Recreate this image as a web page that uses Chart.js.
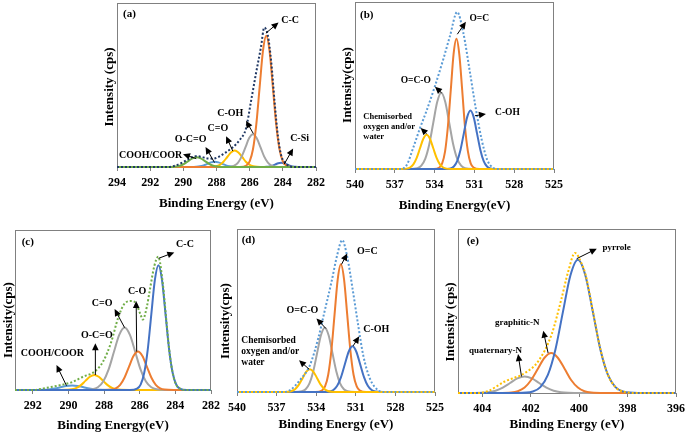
<!DOCTYPE html>
<html lang="en">
<head>
<meta charset="UTF-8">
<title>XPS spectra</title>
<script src="https://cdn.jsdelivr.net/npm/chart.js"></script>
<style>
  body { margin: 0; background: #fff; }
  #wrap { position: relative; width: 690px; height: 436px; overflow: hidden; }
  canvas { position: absolute; }
</style>
</head>
<body>
<div id="wrap">
  <canvas id="ca" width="235" height="215" style="left:95px;top:0"></canvas>
  <canvas id="cb" width="240" height="215" style="left:335px;top:0"></canvas>
  <canvas id="cc" width="225" height="221" style="left:0;top:215px"></canvas>
  <canvas id="cd" width="232" height="221" style="left:218px;top:215px"></canvas>
  <canvas id="ce" width="250" height="221" style="left:440px;top:215px"></canvas>
</div>
<script>
// values: [binding energy (eV), intensity in % of the panel height]

// (a) C 1s
const aRange = [294, 282];
const aEnvelope = [[294,0],[291.0,0],[290.6,0.5],[290.0,3],[289.6,5.3],[289.25,6.6],[288.9,6.2],[288.55,5.2],[288.2,5.1],[287.9,6],[287.6,7.8],[287.0,12.2],[286.6,16.5],[286.22,23.5],[285.92,40],[285.62,57],[285.32,73],[285.12,85],[284.9,80],[284.7,64],[284.5,40],[284.3,19],[284.1,7],[283.9,3],[283.6,0.5],[283.3,0],[282,0]];
const aCC = [[294,0],[286.6,0],[286.2,0.9],[286.0,3.5],[285.8,10.8],[285.6,26.0],[285.4,48.5],[285.2,70.6],[285.0,80],[284.8,70.6],[284.6,48.5],[284.4,26.0],[284.2,10.8],[284.0,3.5],[283.8,0.9],[283.4,0],[282,0]];
const aCOH = [[294,0],[287.6,0],[287.15,0.22],[286.93,0.88],[286.7,2.71],[286.48,6.49],[286.25,12.13],[286.03,17.65],[285.8,20],[285.58,17.65],[285.35,12.13],[285.13,6.49],[284.9,2.71],[284.68,0.88],[284.45,0.22],[284.0,0],[282,0]];
const aCdO = [[294,0],[288.7,0],[288.25,0.11],[288.03,0.44],[287.8,1.35],[287.58,3.2],[287.35,6.1],[287.13,8.8],[286.9,10],[286.68,8.8],[286.45,6.1],[286.23,3.2],[286.0,1.35],[285.78,0.44],[285.55,0.11],[285.1,0],[282,0]];
const aOCO = [[294,0],[289.45,0],[289.23,0.14],[289.0,0.43],[288.78,1.0],[288.55,1.9],[288.33,2.8],[288.1,3.2],[287.88,2.8],[287.65,1.9],[287.43,1.0],[287.2,0.43],[286.98,0.14],[286.75,0],[282,0]];
const aCOOH = [[294,0],[291.2,0],[290.7,0.07],[290.45,0.26],[290.2,0.8],[289.95,1.95],[289.7,3.6],[289.45,5.3],[289.2,6],[288.95,5.3],[288.7,3.6],[288.45,1.95],[288.2,0.8],[287.95,0.26],[287.7,0.07],[287.2,0],[282,0]];
const aCSi = [[294,0],[285.3,0],[284.98,0.11],[284.8,0.35],[284.63,0.85],[284.45,1.6],[284.28,2.3],[284.1,2.6],[283.93,2.3],[283.75,1.6],[283.58,0.85],[283.4,0.35],[283.23,0.11],[282.9,0],[282,0]];
const aLabels = ['C-C', 'C-Si', 'C-OH', 'C=O', 'O-C=O', 'COOH/COOR'];

// (b) O 1s
const bRange = [540, 525];
const bEnvelope = [[540,0],[536.6,0],[536.1,2.4],[535.6,13],[535.1,24.5],[534.6,35],[534.0,49],[533.35,65.6],[532.84,79.7],[532.3,94],[531.84,81.7],[531.33,57.6],[530.88,35.5],[530.45,17.5],[530.03,5.4],[529.6,0.8],[529.2,0],[525,0]];
const bWater = [[540,0],[536.6,0],[536.1,0.23],[535.85,0.9],[535.6,2.8],[535.35,6.7],[535.1,12.4],[534.85,18.1],[534.6,20.5],[534.35,18.1],[534.1,12.4],[533.85,6.7],[533.6,2.8],[533.35,0.9],[533.1,0.23],[532.6,0],[525,0]];
const bOCO = [[540,0],[535.9,0],[535.3,0.5],[535.0,2.0],[534.7,6.2],[534.4,14.8],[534.1,27.7],[533.8,40.2],[533.5,45.6],[533.2,40.2],[532.9,27.7],[532.6,14.8],[532.3,6.2],[532.0,2.0],[531.7,0.5],[531.1,0],[525,0]];
const bOdC = [[540,0],[534.07,0],[533.64,0.87],[533.43,3.4],[533.21,10.6],[533.0,25.3],[532.78,47.3],[532.57,68.8],[532.35,78],[532.14,68.8],[531.92,47.3],[531.71,25.3],[531.49,10.6],[531.28,3.4],[531.06,0.87],[530.63,0],[525,0]];
const bCOH = [[540,0],[533.3,0],[532.8,0.39],[532.55,1.5],[532.3,4.7],[532.05,11.4],[531.8,21.2],[531.55,30.9],[531.3,35],[531.05,30.9],[530.8,21.2],[530.55,11.4],[530.3,4.7],[530.05,1.5],[529.8,0.39],[529.3,0],[525,0]];
const oLabels = ['O=C', 'C-OH', 'O=C-O', 'Chemisorbed\noxygen and/or\nwater'];

// (c) C 1s
const cRange = [293, 282];
const cEnvelope = [[293,0],[292.0,0],[291.4,1],[290.48,3],[289.83,4.8],[289.18,8.3],[288.53,11.5],[288.06,17.7],[287.6,30],[287.22,44.8],[286.85,54],[286.47,55.6],[286.2,54],[285.95,47],[285.83,44],[285.6,52],[285.45,61.4],[285.17,78],[284.96,83.3],[284.7,66],[284.52,45],[284.3,21],[284.05,6],[283.77,1],[283.4,0],[282,0]];
const cCC = [[293,0],[286.55,0],[286.15,0.87],[285.95,3.4],[285.75,10.6],[285.55,25.3],[285.35,47.3],[285.15,68.8],[284.95,78],[284.75,68.8],[284.55,47.3],[284.35,25.3],[284.15,10.6],[283.95,3.4],[283.75,0.87],[283.35,0],[282,0]];
const cCO = [[293,0],[288.1,0],[287.6,0.27],[287.35,1.05],[287.1,3.2],[286.85,7.8],[286.6,14.6],[286.35,21.2],[286.1,24],[285.85,21.2],[285.6,14.6],[285.35,7.8],[285.1,3.2],[284.85,1.05],[284.6,0.27],[284.1,0],[282,0]];
const cCdO = [[293,0],[289.25,0],[288.65,0.43],[288.35,1.7],[288.05,5.3],[287.75,12.7],[287.45,23.7],[287.15,34.4],[286.85,39],[286.55,34.4],[286.25,23.7],[285.95,12.7],[285.65,5.3],[285.35,1.7],[285.05,0.43],[284.45,0],[282,0]];
const cOCO = [[293,0],[290.55,0],[290.05,0.1],[289.8,0.41],[289.55,1.27],[289.3,3.05],[289.05,5.7],[288.8,8.3],[288.55,9.4],[288.3,8.3],[288.05,5.7],[287.8,3.05],[287.55,1.27],[287.3,0.41],[287.05,0.1],[286.55,0],[282,0]];
const cCOOH = [[293,0],[292.1,0],[291.43,0.12],[291.1,0.38],[290.78,0.9],[290.45,1.7],[290.13,2.5],[289.8,2.8],[289.48,2.5],[289.15,1.7],[288.83,0.9],[288.5,0.38],[288.18,0.12],[287.5,0],[282,0]];
const cLabels = ['C-C', 'C-O', 'C=O', 'O-C=O', 'COOH/COOR'];

// (d) O 1s
const dRange = [540, 525];
const dEnvelope = [[540,0],[536.5,0],[536.0,1],[535.24,7.2],[534.48,16.4],[533.85,32.8],[533.35,50],[532.84,67.6],[532.41,84],[532.03,93.2],[531.65,83],[531.25,63.6],[530.82,41],[530.44,22.6],[529.93,8.2],[529.3,1],[528.9,0],[525,0]];
const dWater = [[540,0],[536.68,0],[536.13,0.16],[535.86,0.61],[535.58,1.9],[535.31,4.5],[535.03,8.5],[534.76,12.4],[534.48,14],[534.21,12.4],[533.93,8.5],[533.66,4.5],[533.38,1.9],[533.11,0.61],[532.83,0.16],[532.28,0],[525,0]];
const dOCO = [[540,0],[535.67,0],[535.09,0.44],[534.8,1.73],[534.51,5.3],[534.22,12.8],[533.93,23.9],[533.64,34.8],[533.35,39.4],[533.06,34.8],[532.77,23.9],[532.48,12.8],[532.19,5.3],[531.9,1.73],[531.61,0.44],[531.03,0],[525,0]];
const dOdC = [[540,0],[534.05,0],[533.57,0.87],[533.33,3.4],[533.09,10.6],[532.85,25.4],[532.61,47.5],[532.37,69.1],[532.13,78.3],[531.89,69.1],[531.65,47.5],[531.41,25.4],[531.17,10.6],[530.93,3.4],[530.69,0.87],[530.21,0],[525,0]];
const dCOH = [[540,0],[533.57,0],[532.99,0.31],[532.7,1.23],[532.41,3.8],[532.12,9.1],[531.83,17],[531.54,24.7],[531.25,28],[530.96,24.7],[530.67,17],[530.38,9.1],[530.09,3.8],[529.8,1.23],[529.51,0.31],[528.93,0],[525,0]];

// (e) N 1s
const eRange = [405, 396];
const eEnvelope = [[405,0],[404.2,0],[403.76,1.2],[403.07,7],[402.24,12.2],[401.69,19.3],[401.14,35.5],[400.72,58],[400.45,74.1],[400.17,85.4],[399.9,79],[399.74,72.5],[399.43,49.8],[399.12,26.6],[398.81,11.1],[398.5,3.6],[398.19,0.9],[397.6,0],[396,0]];
const ePyrrole = [[405,0],[402.53,0],[401.91,0.9],[401.6,3.57],[401.29,11.0],[400.98,26.4],[400.67,49.3],[400.36,71.7],[400.05,81.3],[399.74,71.7],[399.43,49.3],[399.12,26.4],[398.81,11.0],[398.5,3.57],[398.19,0.9],[397.57,0],[396,0]];
const eGraphitic = [[405,0],[403.35,0],[402.8,0.27],[402.53,1.07],[402.25,3.3],[401.98,7.9],[401.7,14.8],[401.43,21.5],[401.15,24.4],[400.88,21.5],[400.6,14.8],[400.33,7.9],[400.05,3.3],[399.78,1.07],[399.5,0.27],[398.95,0],[396,0]];
const eQuaternary = [[405,0],[404.65,0],[404.05,0.11],[403.75,0.44],[403.45,1.37],[403.15,3.3],[402.85,6.1],[402.55,8.9],[402.25,10.1],[401.95,8.9],[401.65,6.1],[401.35,3.3],[401.05,1.37],[400.75,0.44],[400.45,0.11],[399.85,0],[396,0]];
const eLabels = ['pyrrole', 'graphitic-N', 'quaternary-N'];

const SERIF = "'Liberation Serif', 'Times New Roman', serif";
const col = { orange: '#ED7D31', gray: '#A5A5A5', yellow: '#FFC000', blue: '#4472C4',
              sky: '#5B9BD5', green: '#70AD47', navy: '#203864' };

function line(data, color, dotted) {
  return {
    data, borderColor: color, borderWidth: 2, pointRadius: 0, fill: false,
    cubicInterpolationMode: 'monotone', clip: 4,
    borderDash: dotted ? [2, 2] : []
  };
}

function arrow(ctx, x0, y0, x1, y1) {
  const a = Math.atan2(y1 - y0, x1 - x0), L = 7, W = 3.3;
  const c = Math.cos(a), s = Math.sin(a);
  ctx.beginPath();
  ctx.moveTo(x0, y0);
  ctx.lineTo(x1 - L * 0.8 * c, y1 - L * 0.8 * s);
  ctx.stroke();
  ctx.beginPath();
  ctx.moveTo(x1, y1);
  ctx.lineTo(x1 - L * c + W * s, y1 - L * s - W * c);
  ctx.lineTo(x1 - L * c - W * s, y1 - L * s + W * c);
  ctx.closePath();
  ctx.fill();
}

// box, panel letter, y title, arrows and peak names
function decor(p) {
  return {
    id: 'decor',
    beforeDatasetsDraw(chart) {
      const { ctx, chartArea: a } = chart;
      ctx.save();
      ctx.strokeStyle = '#808080';
      ctx.lineWidth = 1;
      ctx.strokeRect(a.left + 0.5, a.top + 0.5, a.right - a.left - 1, a.bottom - a.top);
      ctx.restore();
    },
    afterDatasetsDraw(chart) {
      const { ctx, chartArea: a, scales: { x, y } } = chart;
      ctx.save();
      ctx.fillStyle = '#000';
      ctx.strokeStyle = '#000';
      ctx.lineWidth = 1;
      ctx.textBaseline = 'middle';

      ctx.font = `bold 11px ${SERIF}`;
      ctx.textAlign = 'left';
      ctx.fillText(p.tag, a.left + p.tagAt[0], a.top + p.tagAt[1]);

      ctx.save();
      ctx.translate(p.yTitleAt[0], p.yTitleAt[1]);
      ctx.rotate(-Math.PI / 2);
      ctx.font = `bold 13px ${SERIF}`;
      ctx.textAlign = 'center';
      ctx.fillText(p.yTitle, 0, 0);
      ctx.restore();

      p.notes.forEach(n => {
        arrow(ctx, x.getPixelForValue(n.from[0]), y.getPixelForValue(n.from[1]),
                   x.getPixelForValue(n.to[0]), y.getPixelForValue(n.to[1]));
        ctx.font = `bold ${n.size || p.noteSize}px ${SERIF}`;
        ctx.textAlign = n.left ? 'left' : 'center';
        const tx = x.getPixelForValue(n.at[0]), ty = y.getPixelForValue(n.at[1]);
        n.text.split('\n').forEach((t, i) => ctx.fillText(t, tx, ty + i * (n.gap || 0)));
      });
      ctx.restore();
    }
  };
}

function makePanel(id, p) {
  new Chart(document.getElementById(id), {
    type: 'line',
    data: { datasets: p.series },
    options: {
      responsive: false,
      animation: false,
      events: [],
      layout: { padding: { left: p.pad[0], top: p.pad[1], right: p.pad[2], bottom: 0 } },
      plugins: { legend: { display: false }, tooltip: { enabled: false } },
      scales: {
        x: {
          type: 'linear', reverse: true, min: p.range[1], max: p.range[0],
          afterFit: s => { s.height = p.pad[3]; },
          ticks: {
            stepSize: p.step, includeBounds: false, autoSkip: false, maxRotation: 0,
            padding: 5, color: '#000', font: { family: SERIF, size: 12, weight: 'bold' }
          },
          grid: { display: true, drawOnChartArea: false, drawTicks: true, tickLength: 4, color: '#808080' },
          border: { display: false },
          title: {
            display: true, text: p.xTitle, color: '#000',
            font: { family: SERIF, size: 13, weight: 'bold' },
            padding: { top: 0, bottom: p.xTitlePad }
          }
        },
        y: { display: false, min: 0, max: 100 }
      }
    },
    plugins: [decor(p)]
  });
}

makePanel('ca', {
  range: aRange, step: 2, pad: [22, 3, 13, 48], xTitle: 'Binding Energy (eV)', xTitlePad: 4,
  tag: '(a)', tagAt: [6, 11], yTitle: 'Intensity (cps)', yTitleAt: [15, 87], noteSize: 10,
  series: [line(aEnvelope, col.navy, true), line(aCOOH, col.green), line(aCC, col.orange),
           line(aCOH, col.gray), line(aCdO, col.yellow), line(aCSi, col.blue), line(aOCO, col.sky)],
  notes: [
    { text: aLabels[0], at: [283.56, 89.4], from: [285.02, 81.6], to: [284.26, 88.1] },
    { text: aLabels[1], at: [282.99, 17.4], from: [283.92, 1.7], to: [283.38, 11.3] },
    { text: aLabels[2], at: [287.17, 32.7], from: [285.78, 20.4], to: [286.22, 28.2] },
    { text: aLabels[3], at: [287.92, 23.5], from: [287.02, 9.8], to: [287.42, 18.8] },
    { text: aLabels[4], at: [289.56, 16.8], from: [288.12, 2.7], to: [288.66, 12.2] },
    { text: aLabels[5], at: [291.97, 7.2], from: [289.22, 5.1], to: [290.02, 7.8] }
  ]
});

makePanel('cb', {
  range: bRange, step: 3, pad: [20, 2, 21, 46], xTitle: 'Binding Energy(eV)', xTitlePad: 2,
  tag: '(b)', tagAt: [5, 13], yTitle: 'Intensity(cps)', yTitleAt: [12.5, 85], noteSize: 9.5,
  series: [line(bEnvelope, col.sky, true), line(bWater, col.yellow), line(bCOH, col.blue),
           line(bOdC, col.orange), line(bOCO, col.gray)],
  notes: [
    { text: oLabels[0], at: [530.63, 89.8], from: [532.29, 80.7], to: [531.64, 88.1] },
    { text: oLabels[1], at: [528.51, 33.6], from: [530.96, 31.9], to: [530.13, 32.9] },
    { text: oLabels[2], at: [535.42, 53.2], from: [533.47, 45.6], to: [533.97, 49.2] },
    { text: oLabels[3], at: [539.37, 31.5], from: [534.6, 21.1], to: [535.05, 24.5],
      left: true, size: 8.5, gap: 10 }
  ]
});

makePanel('cc', {
  range: cRange, step: 2, pad: [15, 15, 13, 46], xTitle: 'Binding Energy(eV)', xTitlePad: 2.7,
  tag: '(c)', tagAt: [6.7, 11.7], yTitle: 'Intensity(cps)', yTitleAt: [8.3, 105], noteSize: 10,
  series: [line(cEnvelope, col.green, true), line(cCC, col.blue), line(cCO, col.orange),
           line(cCdO, col.gray), line(cOCO, col.yellow), line(cCOOH, col.sky)],
  notes: [
    { text: cLabels[0], at: [283.46, 91.25], from: [284.94, 82.3], to: [284.06, 86] },
    { text: cLabels[1], at: [286.15, 61.4], from: [286.17, 24], to: [286.2, 55.6] },
    { text: cLabels[2], at: [288.11, 54.2], from: [286.85, 39], to: [287.41, 50.6] },
    { text: cLabels[3], at: [288.41, 34.4], from: [288.49, 9.4], to: [288.49, 29.2] },
    { text: cLabels[4], at: [290.9, 22.9], from: [290.11, 2.7], to: [290.67, 15.6] }
  ]
});

makePanel('cd', {
  range: dRange, step: 3, pad: [19, 14, 15, 44], xTitle: 'Binding Energy (eV)', xTitlePad: 3.2,
  tag: '(d)', tagAt: [4.7, 11], yTitle: 'Intensity(cps)', yTitleAt: [8, 106], noteSize: 10,
  series: [line(dEnvelope, col.sky, true), line(dWater, col.yellow), line(dCOH, col.blue),
           line(dOdC, col.orange), line(dOCO, col.gray)],
  notes: [
    { text: oLabels[0], at: [530.12, 86], from: [532.08, 78.3], to: [531.65, 85] },
    { text: oLabels[1], at: [529.45, 38.4], from: [531.2, 28.3], to: [530.74, 34.2] },
    { text: oLabels[2], at: [535.05, 49.8], from: [533.27, 39], to: [533.98, 45.1] },
    { text: oLabels[3], at: [539.67, 31.8], from: [534.54, 14], to: [535.3, 19.5],
      left: true, size: 9.5, gap: 11 }
  ]
});

makePanel('ce', {
  range: eRange, step: 2, pad: [18, 14, 13, 43], xTitle: 'Binding Energy (eV)', xTitlePad: 3.2,
  tag: '(e)', tagAt: [8.7, 11.7], yTitle: 'Intensity (cps)', yTitleAt: [11, 107], noteSize: 9,
  series: [line(eEnvelope, col.yellow, true), line(ePyrrole, col.blue),
           line(eGraphitic, col.orange), line(eQuaternary, col.gray)],
  notes: [
    { text: eLabels[0], at: [398.45, 88.8], from: [400.1, 81.9], to: [399.27, 88] },
    { text: eLabels[1], at: [402.55, 42.7], from: [401.28, 24.4], to: [401.48, 38] },
    { text: eLabels[2], at: [403.45, 26], from: [402.38, 10.1], to: [402.52, 23.8] }
  ]
});
</script>
</body>
</html>
